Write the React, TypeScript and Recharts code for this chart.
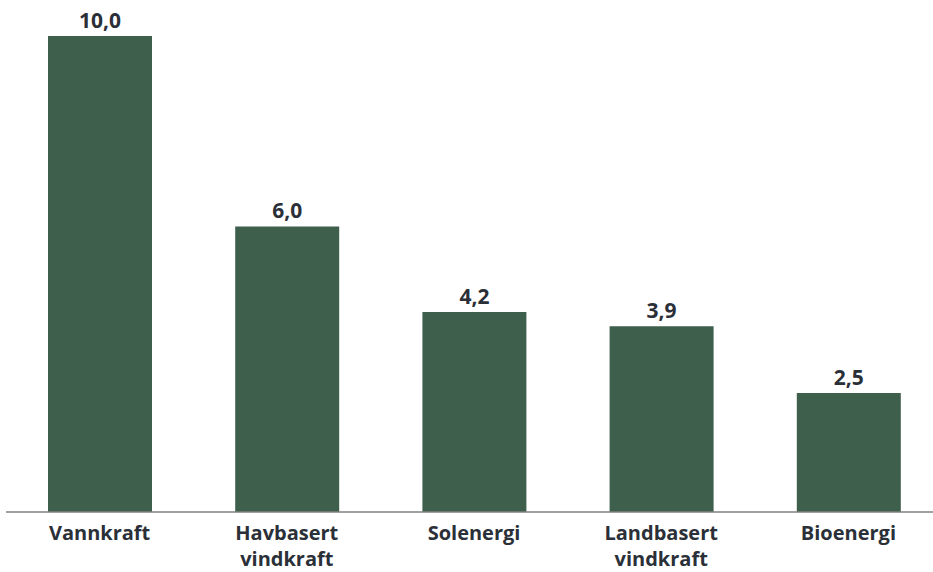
import * as React from 'react';
import { BarChart, Bar, XAxis, YAxis, LabelList } from 'recharts';

const categories = ['Vannkraft', 'Havbasert\nvindkraft', 'Solenergi', 'Landbasert\nvindkraft', 'Bioenergi'];
const values = [10.0, 6.0, 4.2, 3.9, 2.5];

const data = categories.map((name, i) => ({ name, value: values[i] }));

const FONT = '"Open Sans", sans-serif';
const TEXT = '#2b3038';

const formatValue = (v: number) => v.toFixed(1).replace('.', ',');

const CategoryTick = (props: any) => {
    const { x, y, payload } = props;
    const lines = String(payload.value).split('\n');
    return (
        <g transform={`translate(${x},${y})`}>
            {lines.map((line, i) => (
                <text
                    key={i}
                    x={0}
                    y={i * 26}
                    dy={20}
                    textAnchor="middle"
                    fill={TEXT}
                    fontFamily={FONT}
                    fontWeight={700}
                    fontSize={20}
                >
                    {line}
                </text>
            ))}
        </g>
    );
};

export default function App() {
    return (
        <div style={{ position: 'absolute', left: 0, top: 0, width: 933, height: 572, overflow: 'hidden', background: '#fff' }}>
            <BarChart
                width={942}
                height={572}
                data={data}
                margin={{ top: 36, right: 0, bottom: 30, left: 6 }}
                barSize={104}
            >
                <YAxis hide domain={[0, 10]} />
                <XAxis
                    dataKey="name"
                    interval={0}
                    tickLine={false}
                    axisLine={{ stroke: '#808080', strokeWidth: 1.5 }}
                    tick={<CategoryTick />}
                />
                <Bar dataKey="value" fill="#3f5f4d" isAnimationActive={false}>
                    <LabelList
                        dataKey="value"
                        position="top"
                        offset={8}
                        formatter={(v: any) => formatValue(Number(v))}
                        fill={TEXT}
                        fontFamily={FONT}
                        fontWeight={700}
                        fontSize={21}
                    />
                </Bar>
            </BarChart>
        </div>
    );
}
